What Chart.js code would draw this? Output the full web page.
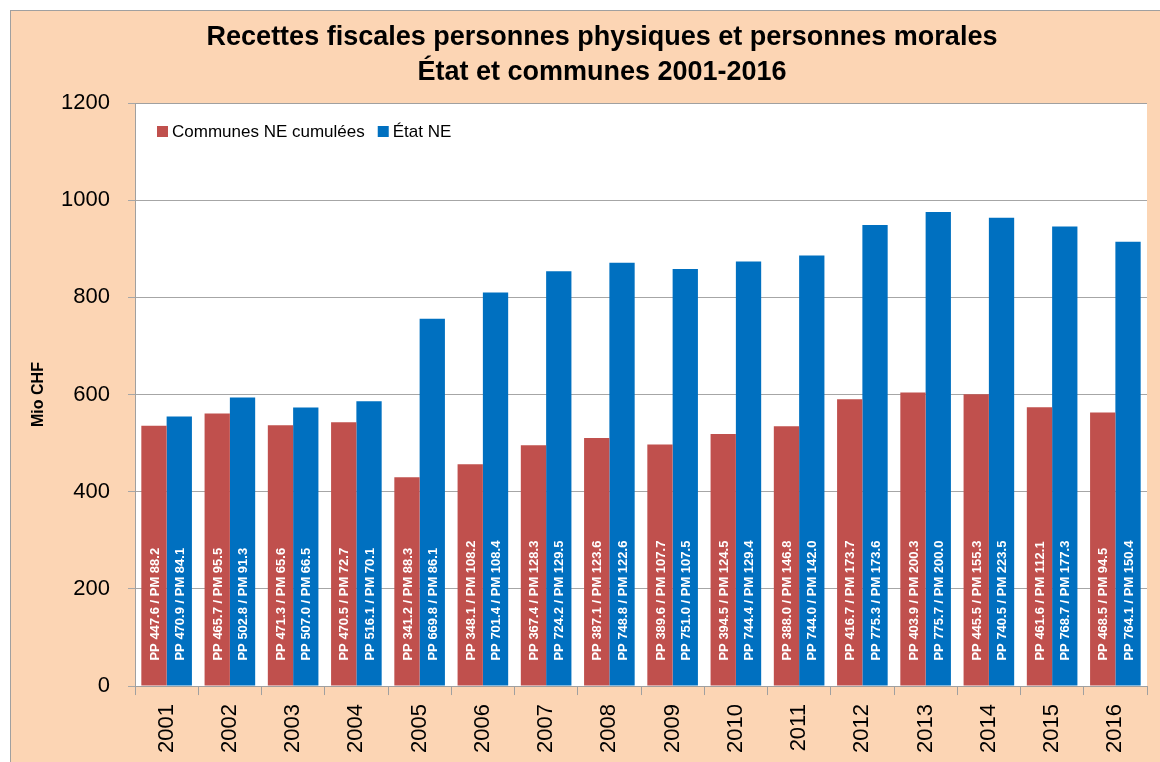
<!DOCTYPE html>
<html>
<head>
<meta charset="utf-8">
<script src="https://cdn.jsdelivr.net/npm/chart.js@4"></script>
<style>
  html, body { margin: 0; padding: 0; background: #fff; }
  #wrap { width: 1160px; height: 762px; }
</style>
</head>
<body>
<div id="wrap"><canvas id="fiscalChart" width="1160" height="762"></canvas></div>
<script>
// Donnees (Mio CHF)
const years = ['2001', '2002', '2003', '2004', '2005', '2006', '2007', '2008',
               '2009', '2010', '2011', '2012', '2013', '2014', '2015', '2016'];

// Communes NE cumulees : personnes physiques / personnes morales
const communesPP = [447.6, 465.7, 471.3, 470.5, 341.2, 348.1, 367.4, 387.1,
                    389.6, 394.5, 388.0, 416.7, 403.9, 445.5, 461.6, 468.5];
const communesPM = [88.2, 95.5, 65.6, 72.7, 88.3, 108.2, 128.3, 123.6,
                    107.7, 124.5, 146.8, 173.7, 200.3, 155.3, 112.1, 94.5];

// Etat NE : personnes physiques / personnes morales
const etatPP = [470.9, 502.8, 507.0, 516.1, 669.8, 701.4, 724.2, 748.8,
                751.0, 744.4, 744.0, 775.3, 775.7, 740.5, 768.7, 764.1];
const etatPM = [84.1, 91.3, 66.5, 70.1, 86.1, 108.4, 129.5, 122.6,
                107.5, 129.4, 142.0, 173.6, 200.0, 223.5, 177.3, 150.4];

const yTicks = [0, 200, 400, 600, 800, 1000, 1200];

const titleLines = ['Recettes fiscales personnes physiques et personnes morales',
                    'État et communes 2001-2016'];

// total = PP + PM
const communesTotal = communesPP.map((v, i) => +(v + communesPM[i]).toFixed(1));
const etatTotal = etatPP.map((v, i) => +(v + etatPM[i]).toFixed(1));

const RED = '#C0504D';
const BLUE = '#0070C0';
const PEACH = '#FCD5B4';
const FONT = "'Liberation Sans', 'DejaVu Sans', sans-serif";

// fond peche + cadre gris + titre + legende dans la zone de trace
const decorPlugin = {
    id: 'decor',
    beforeDraw(chart) {
        const c = chart.ctx;
        c.save();
        c.fillStyle = '#ffffff';
        c.fillRect(0, 0, chart.width, chart.height);
        c.fillStyle = PEACH;
        c.fillRect(10, 10, chart.width - 10, chart.height - 10);
        c.strokeStyle = '#a0a0a0';
        c.lineWidth = 1;
        c.strokeRect(10.5, 10.5, chart.width, chart.height);
        const a = chart.chartArea;
        c.fillStyle = '#ffffff';
        c.fillRect(a.left, a.top, a.right - a.left, a.bottom - a.top);

        // titre
        c.fillStyle = '#000';
        c.font = 'bold 27px ' + FONT;
        c.textAlign = 'center';
        c.textBaseline = 'middle';
        c.fillText(titleLines[0], 602, 38);
        c.fillText(titleLines[1], 602, 73);
        c.restore();
    },
    afterDatasetsDraw(chart) {
        const a = chart.chartArea;
        const c = chart.ctx;
        c.save();
        c.strokeStyle = '#a0a0a0';
        c.lineWidth = 1;
        c.beginPath();
        c.moveTo(a.left + 0.5, a.bottom);
        c.lineTo(a.left + 0.5, a.top + 0.5);
        c.lineTo(a.right, a.top + 0.5);
        c.stroke();

        // legende
        c.font = '17px ' + FONT;
        c.textAlign = 'left';
        c.textBaseline = 'middle';
        let x = a.left + 22;
        const y = a.top + 28;
        chart.data.datasets.forEach(ds => {
            c.fillStyle = ds.backgroundColor;
            c.fillRect(x, y - 5, 11, 11);
            c.fillStyle = '#000';
            c.fillText(ds.label, x + 15, y + 1);
            x += 15 + c.measureText(ds.label).width + 13;
        });
        c.restore();
    }
};

// etiquettes verticales "PP x / PM y" dans les barres
const barLabelPlugin = {
    id: 'barLabels',
    afterDatasetsDraw(chart) {
        const c = chart.ctx;
        const pp = [communesPP, etatPP];
        const pm = [communesPM, etatPM];
        c.save();
        c.fillStyle = '#ffffff';
        c.font = 'bold 13px ' + FONT;
        c.textAlign = 'left';
        c.textBaseline = 'middle';
        chart.data.datasets.forEach((ds, di) => {
            const meta = chart.getDatasetMeta(di);
            meta.data.forEach((bar, i) => {
                const txt = 'PP ' + pp[di][i].toFixed(1) + ' / PM ' + pm[di][i].toFixed(1);
                c.save();
                c.translate(bar.x + 1, bar.base - 25);
                c.rotate(-Math.PI / 2);
                c.fillText(txt, 0, 0);
                c.restore();
            });
        });
        c.restore();
    }
};

const ctx = document.getElementById('fiscalChart').getContext('2d');

const fiscalChart = new Chart(ctx, {
    type: 'bar',
    data: {
        labels: years,
        datasets: [{
            label: 'Communes NE cumulées',
            data: communesTotal,
            backgroundColor: RED,
            borderWidth: 0
        }, {
            label: 'État NE',
            data: etatTotal,
            backgroundColor: BLUE,
            borderWidth: 0
        }]
    },
    options: {
        responsive: false,
        animation: false,
        layout: {
            padding: { left: 18, right: 13, top: 103, bottom: 0 }
        },
        plugins: {
            title: { display: false },
            legend: { display: false },
            tooltip: { enabled: false }
        },
        datasets: {
            bar: { barPercentage: 1.0, categoryPercentage: 0.8 }
        },
        scales: {
            x: {
                grid: {
                    offset: true,
                    drawOnChartArea: false,
                    color: '#a0a0a0',
                    tickLength: 9
                },
                border: { color: '#a0a0a0' },
                ticks: {
                    color: '#000',
                    font: { family: FONT, size: 22 },
                    minRotation: 90,
                    maxRotation: 90,
                    padding: 9
                }
            },
            y: {
                min: 0,
                max: 1200,
                afterBuildTicks(scale) {
                    scale.ticks = yTicks.map(v => ({ value: v }));
                },
                afterFit(scale) {
                    scale.width = 117;
                },
                grid: {
                    color: '#a6a6a6',
                    tickLength: 7
                },
                border: { display: false },
                ticks: {
                    color: '#000',
                    font: { family: FONT, size: 22 },
                    padding: 18,
                    callback: v => String(v)
                },
                title: {
                    display: true,
                    text: 'Mio CHF',
                    color: '#000',
                    font: { family: FONT, size: 16, weight: 'bold' },
                    padding: { top: 11, bottom: 0 }
                }
            }
        }
    },
    plugins: [decorPlugin, barLabelPlugin]
});
</script>
</body>
</html>
